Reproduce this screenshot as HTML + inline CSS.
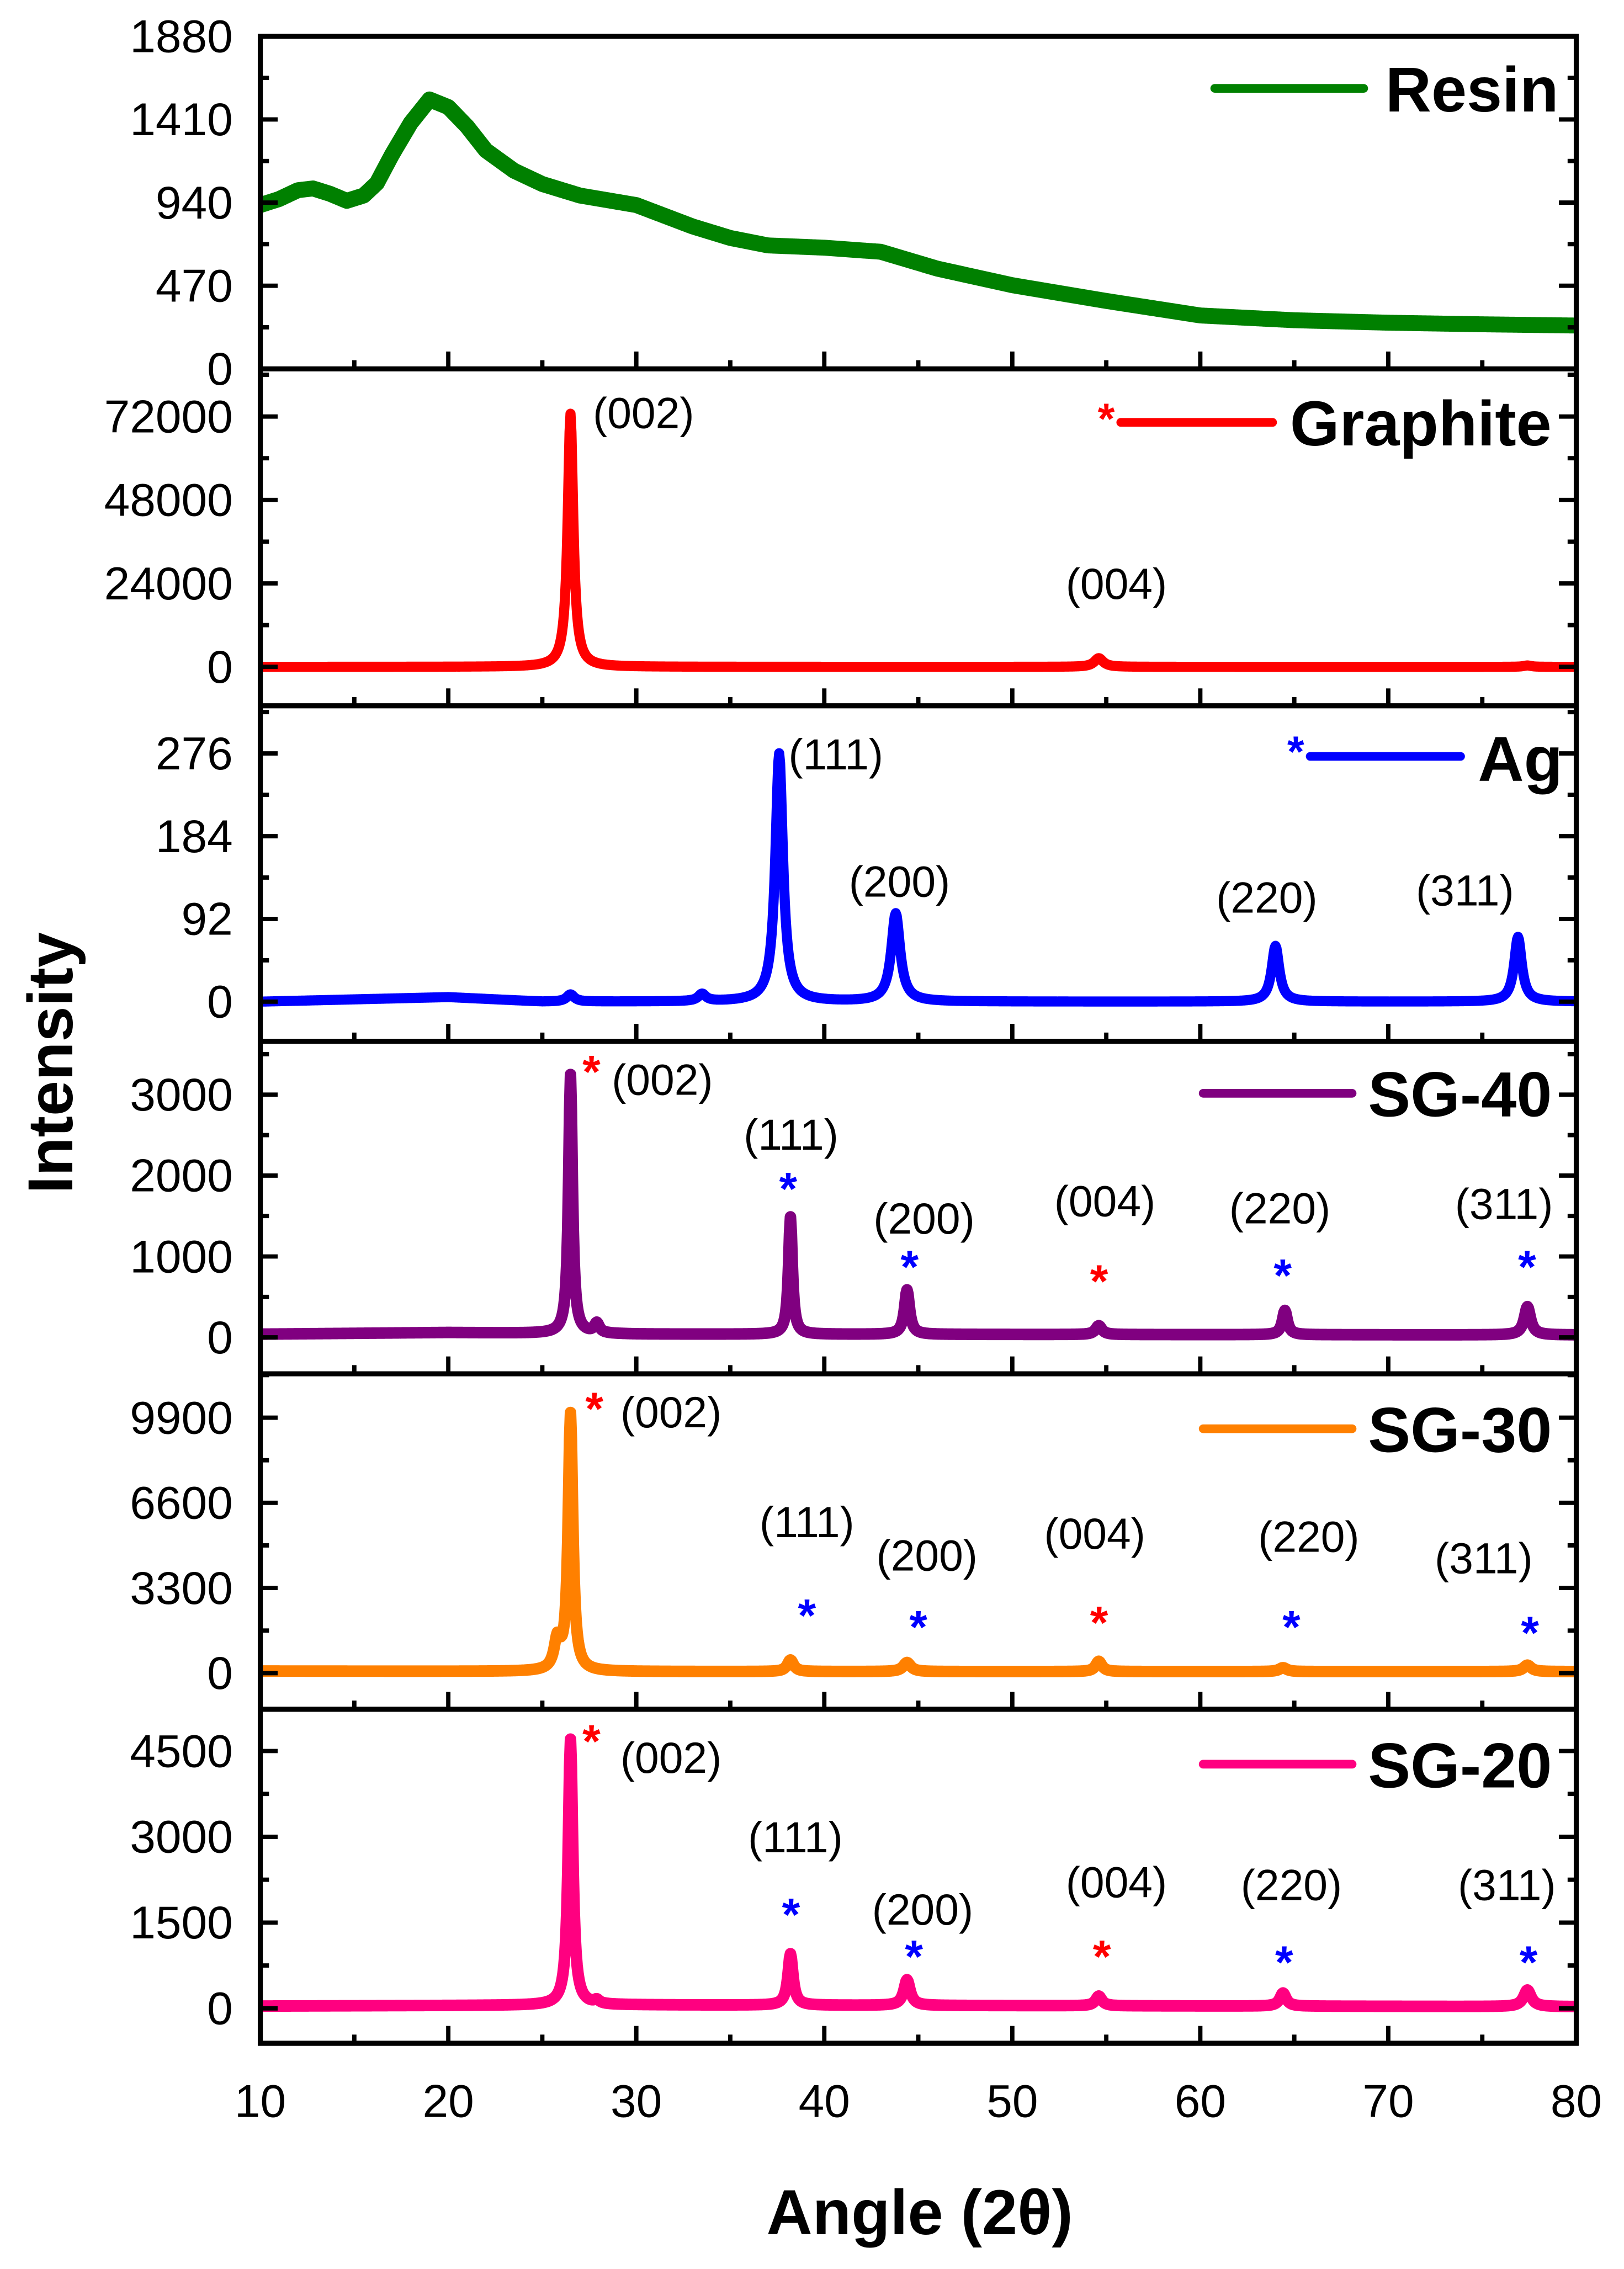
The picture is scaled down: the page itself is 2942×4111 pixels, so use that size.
<!DOCTYPE html>
<html><head><meta charset="utf-8"><style>
html,body{margin:0;padding:0;background:#fff;}
svg{display:block;font-family:"Liberation Sans",Arial,sans-serif;}
</style></head><body>
<svg id="chart" width="2942" height="4111" viewBox="0 0 1123 1569" xmlns="http://www.w3.org/2000/svg"></svg>
<script>
// ---- data ----
const xTicks = [10,20,30,40,50,60,70,80];
const panelNames = ["Resin","Graphite","Ag","SG-40","SG-30","SG-20"];
const panelColors = ["#008000","#ff0000","#0000ff","#800080","#ff8000","#ff0080"];
const yTicksResin = [0,470,940,1410,1880];
const yTicksGraphite = [0,24000,48000,72000];
const yTicksAg = [0,92,184,276];
const yTicksSG40 = [0,1000,2000,3000];
const yTicksSG30 = [0,3300,6600,9900];
const yTicksSG20 = [0,1500,3000,4500];
// baselines: [angle, intensity]
const baseResin = [[10,926],[11,960],[12,1010],[12.8,1020],[13.7,990],[14.6,950],[15.5,980],[16.2,1050],[17,1210],[18,1390],[19,1523],[20,1480],[21,1370],[22,1235],[23.5,1120],[25,1045],[27,980],[30,926],[33,805],[35,740],[37,698],[40,685],[43,662],[46,567],[50,473],[55,384],[60,302],[65,275],[70,261],[75,252],[80,245]];
const baseGraphite = [[10,0],[80,0]];
const baseAg = [[10,0],[20,5],[25,0],[80,0]];
const baseSG40 = [[10,40],[20,60],[30,40],[80,30]];
const baseSG30 = [[10,80],[30,60],[80,60]];
const baseSG20 = [[10,40],[30,60],[80,30]];
// peaks: [angle, height, halfwidth]
const peaksGraphite = [[26.5,72800,0.22],[54.6,2500,0.35],[77.4,400,0.3]];
const peaksAg = [[37.6,276,0.3],[43.8,98,0.35],[64.0,62,0.3],[76.9,72,0.3],[26.5,8,0.3],[33.5,8,0.3]];
const peaksSG40 = [[26.5,3200,0.15],[27.9,120,0.2],[38.2,1450,0.15],[44.4,550,0.2],[54.6,110,0.25],[64.5,300,0.2],[77.4,350,0.25]];
const peaksSG30 = [[26.5,9950,0.18],[25.8,1100,0.25],[38.2,450,0.25],[44.4,350,0.3],[54.6,400,0.25],[64.4,150,0.3],[77.4,250,0.3]];
const peaksSG20 = [[26.5,4650,0.18],[38.2,900,0.2],[44.4,450,0.25],[54.6,170,0.25],[64.4,230,0.25],[77.4,290,0.3],[27.9,60,0.2]];

const panels = [
 {top:25,bot:255,min:0,max:1880,ticks:yTicksResin,base:baseResin,peaks:[],sw:11},
 {top:255,bot:488,min:-11200,max:85700,ticks:yTicksGraphite,base:baseGraphite,peaks:peaksGraphite,sw:7},
 {top:488,bot:720,min:-44,max:329,ticks:yTicksAg,base:baseAg,peaks:peaksAg,sw:7},
 {top:720,bot:950,min:-450,max:3660,ticks:yTicksSG40,base:baseSG40,peaks:peaksSG40,sw:8},
 {top:950,bot:1182,min:-1400,max:11600,ticks:yTicksSG30,base:baseSG30,peaks:peaksSG30,sw:8},
 {top:1182,bot:1413,min:-610,max:5230,ticks:yTicksSG20,base:baseSG20,peaks:peaksSG20,sw:8}
];
const X0=180,X1=1090;
function xs(a){return X0+(a-10)/70*(X1-X0);}
const NS="http://www.w3.org/2000/svg";
const svg=document.getElementById('chart');
function mk(tag,attrs,parent){const e=document.createElementNS(NS,tag);for(const k in attrs)e.setAttribute(k,attrs[k]);(parent||svg).appendChild(e);return e;}
function interp(b,a){for(let i=0;i<b.length-1;i++){if(a>=b[i][0]&&a<=b[i+1][0]){const t=(a-b[i][0])/(b[i+1][0]-b[i][0]);return b[i][1]+t*(b[i+1][1]-b[i][1]);}}return b[b.length-1][1];}

panels.forEach((p,i)=>{
  const g=mk('g',{});
  
  
  const ys=v=>p.bot-(v-p.min)/(p.max-p.min)*(p.bot-p.top);
  let d='';
  for(let a=10;a<=80.0001;a+=0.05){
    let v=interp(p.base,a);
    p.peaks.forEach(k=>{const z=(a-k[0])/k[2];v+=k[1]/(1+z*z*1.5);});
    d+=(d?'L':'M')+xs(a).toFixed(2)+','+ys(v).toFixed(2);
  }
  const path=mk('path',{d:d,fill:'none',stroke:panelColors[i],'stroke-width':p.sw,'stroke-linejoin':'round'},g);
  
  
  const step=p.ticks[1]-p.ticks[0];
  for(let v=p.ticks[0];v<=p.ticks[p.ticks.length-1]+step/2+1e-9;v+=step/2){
    const y=ys(v); if(y<p.top-0.5)continue;
    const major=Math.abs((v/step)-Math.round(v/step))<1e-6;
    const L=major?12:6;
    mk('line',{x1:X0,x2:X0+L,y1:y,y2:y,stroke:'#000','stroke-width':3},g);
    mk('line',{x1:X1,x2:X1-L,y1:y,y2:y,stroke:'#000','stroke-width':3},g);
  }
  p.ticks.forEach(v=>{
    const t=mk('text',{x:161,y:ys(v)+11,'text-anchor':'end','font-size':32,fill:'#000'},g);
    t.textContent=v;
    
    
  });
  for(let a=15;a<80;a+=5){
    const major=a%10===0; const L=major?12:6;
    mk('line',{x1:xs(a),x2:xs(a),y1:p.bot,y2:p.bot-L,stroke:'#000','stroke-width':3},g);
  }
  mk('line',{x1:X0-1.5,x2:X1+1.5,y1:p.bot,y2:p.bot,stroke:'#000','stroke-width':3.5},g);
});
const frame=mk('rect',{x:X0,y:25,width:X1-X0,height:1413-25,fill:'none',stroke:'#000','stroke-width':3.5});


xTicks.forEach(a=>{
  const t=mk('text',{x:xs(a),y:1464,'text-anchor':'middle','font-size':32});
  t.textContent=a;
  
  
});
</script>
<svg style="position:absolute;left:0;top:0" width="2942" height="4111" viewBox="0 0 1123 1569" xmlns="http://www.w3.org/2000/svg" font-family="Liberation Sans, Arial, sans-serif">
 <text x="636" y="1545" text-anchor="middle" font-size="44" font-weight="bold">Angle (2θ)</text>
 <text x="0" y="0" transform="translate(50,735) rotate(-90)" text-anchor="middle" font-size="44" font-weight="bold">Intensity</text>
 <g><line x1="840" x2="943" y1="61" y2="61" stroke="#008000" stroke-width="6" stroke-linecap="round"/><text x="958" y="77" font-size="44" font-weight="bold">Resin</text></g>
 <g><text x="765" y="300" text-anchor="middle" font-size="30" font-weight="bold" fill="#ff0000">*</text><line x1="775" x2="880" y1="292" y2="292" stroke="#ff0000" stroke-width="6" stroke-linecap="round"/><text x="892" y="308" font-size="44" font-weight="bold">Graphite</text></g>
 <g><text x="896" y="530" text-anchor="middle" font-size="30" font-weight="bold" fill="#0000ff">*</text><line x1="906" x2="1010" y1="523" y2="523" stroke="#0000ff" stroke-width="6" stroke-linecap="round"/><text x="1022" y="540" font-size="44" font-weight="bold">Ag</text></g>
 <g><line x1="832" x2="935" y1="756" y2="756" stroke="#800080" stroke-width="6" stroke-linecap="round"/><text x="946" y="772" font-size="44" font-weight="bold">SG-40</text></g>
 <g><line x1="832" x2="935" y1="988" y2="988" stroke="#ff8000" stroke-width="6" stroke-linecap="round"/><text x="946" y="1004" font-size="44" font-weight="bold">SG-30</text></g>
 <g><line x1="832" x2="935" y1="1220" y2="1220" stroke="#ff0080" stroke-width="6" stroke-linecap="round"/><text x="946" y="1236" font-size="44" font-weight="bold">SG-20</text></g>
 <g font-size="30" text-anchor="middle">
  <text x="445" y="296">(002)</text><text x="772" y="414">(004)</text>
  <text x="578" y="532">(111)</text><text x="622" y="620">(200)</text><text x="876" y="631">(220)</text><text x="1013" y="626">(311)</text>
  <text x="458" y="757">(002)</text><text x="547" y="795">(111)</text><text x="639" y="853">(200)</text><text x="764" y="841">(004)</text><text x="885" y="846">(220)</text><text x="1040" y="843">(311)</text>
  <text x="464" y="987">(002)</text><text x="558" y="1063">(111)</text><text x="641" y="1086">(200)</text><text x="757" y="1071">(004)</text><text x="905" y="1073">(220)</text><text x="1026" y="1088">(311)</text>
  <text x="464" y="1226">(002)</text><text x="550" y="1281">(111)</text><text x="638" y="1331">(200)</text><text x="772" y="1312">(004)</text><text x="893" y="1314">(220)</text><text x="1042" y="1314">(311)</text>
 </g>
 <g font-size="32" font-weight="bold" text-anchor="middle">
  <text x="409" y="752" fill="#ff0000">*</text><text x="545" y="833" fill="#0000ff">*</text><text x="629" y="887" fill="#0000ff">*</text><text x="760" y="897" fill="#ff0000">*</text><text x="887" y="893" fill="#0000ff">*</text><text x="1056" y="887" fill="#0000ff">*</text>
  <text x="411" y="985" fill="#ff0000">*</text><text x="558" y="1128" fill="#0000ff">*</text><text x="635" y="1136" fill="#0000ff">*</text><text x="760" y="1133" fill="#ff0000">*</text><text x="893" y="1136" fill="#0000ff">*</text><text x="1058" y="1140" fill="#0000ff">*</text>
  <text x="409" y="1215" fill="#ff0000">*</text><text x="547" y="1335" fill="#0000ff">*</text><text x="632" y="1364" fill="#0000ff">*</text><text x="762" y="1364" fill="#ff0000">*</text><text x="888" y="1368" fill="#0000ff">*</text><text x="1057" y="1368" fill="#0000ff">*</text>
 </g>
</svg>
</body></html>
